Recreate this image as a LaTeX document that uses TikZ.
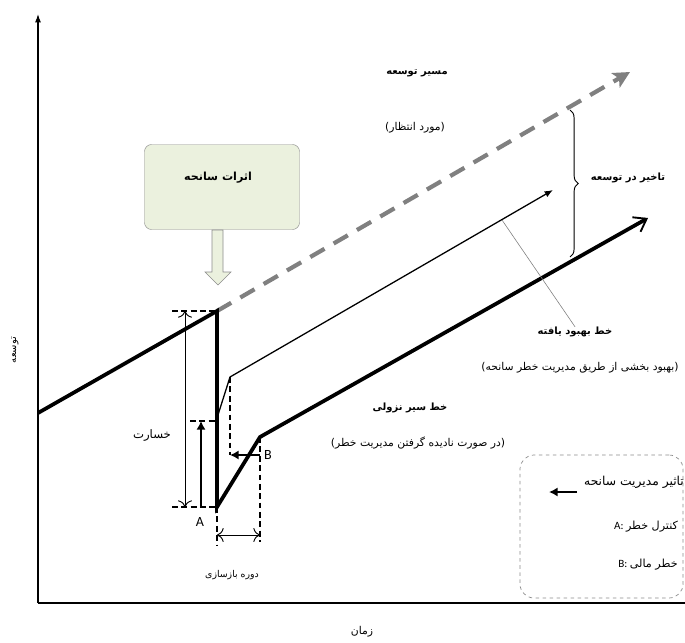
\documentclass[tikz,border=0pt]{standalone}
\usepackage{fontspec}
\setmainfont{Carlito}
\newfontfamily\fa[Script=Arabic]{DejaVu Sans}
\TeXXeTstate=1
\usepackage{tikz}
\usetikzlibrary{positioning,arrows.meta,decorations.pathreplacing}
\usepackage{xcolor}
\definecolor{ShockGreen}{RGB}{235,241,222}
\definecolor{ShockGray}{RGB}{140,140,140}
\definecolor{PathGray}{RGB}{128,128,128}
\newcommand{\fatext}[1]{{\fa\beginR #1\endR}}

\begin{document}
\begin{tikzpicture}[x=0.03cm,y=-0.03cm,
axis/.style={-{Latex[length=2.5mm,width=1.8mm]},line width=1.1pt},
pathline/.style={-{Straight Barb[length=3.5mm,width=5mm,line width=1.6pt]},line width=3.2pt,line join=miter},
expected/.style={-{Stealth[length=5mm,width=5mm,inset=1.2mm]},PathGray,line width=3.6pt,dash pattern=on 14pt off 9pt},
improved/.style={-{Latex[length=2.5mm,width=2mm]},line width=1.1pt},
guide/.style={dashed,line width=0.9pt,dash pattern=on 5pt off 3pt},
span/.style={{To[length=2mm]}-{To[length=2mm]},line width=0.8pt},
effarrow/.style={-{Latex[length=2.6mm,width=2.8mm]},line width=2.4pt},
leader/.style={draw=PathGray,line width=0.5pt},
effectbox/.style={rectangle,rounded corners=6pt,draw=ShockGray,fill=ShockGreen,minimum width=4.65cm,minimum height=2.55cm},
callarrow/.style={draw=ShockGray,fill=ShockGreen,line width=0.5pt},
legendbox/.style={rectangle,rounded corners=12pt,draw=ShockGray,dashed,line width=0.6pt,minimum width=4.89cm,minimum height=4.29cm},
lbl/.style={inner sep=0pt,font=\fontsize{9.2}{11}\selectfont},
boldlbl/.style={inner sep=0pt,font=\fontsize{8.5}{10}\selectfont\bfseries},
keylbl/.style={inner sep=0pt,font=\fontsize{9.5}{12}\selectfont},
letter/.style={inner sep=0pt,font=\fontsize{12}{14}\selectfont}
]
\useasboundingbox (0,0) rectangle (685,642);
\coordinate (o) at (38,603);
\coordinate (ytop) at (38,14);
\coordinate (xend) at (685,603);
\draw[axis] (o) -- (ytop);
\draw[line width=1.3pt] (o) -- (xend);

\coordinate (s0) at (38,413);
\coordinate (s1) at (217,311);
\coordinate (s2) at (217,507);
\coordinate (goal) at (630,72);
\coordinate (i0) at (217,418);
\coordinate (i1) at (230,377);
\coordinate (i2) at (553,190);
\coordinate (d1) at (260,437);
\coordinate (d2) at (648,218);
\coordinate (lead) at (502,220);

\draw[expected] (s1) -- (goal);
\draw[improved] (i0) -- (i1) -- (i2);
\draw[pathline] (s0) -- (s1) -- (s2) -- (d1) -- (d2);

\coordinate (g1) at (172,311);
\coordinate (g2) at (190,421);
\coordinate (g3) at (172,507);
\coordinate (g4) at (217,421);
\coordinate (g5) at (230,455);
\coordinate (g6) at (260,542);
\coordinate (g7) at (217,546);
\draw[guide] (g1) -- (s1);
\draw[guide] (g2) -- (g4);
\draw[guide] (g3) -- (s2);
\draw[guide] (i1) -- (g5);
\draw[guide] (d1) -- (g6);
\draw[guide] (s2) -- (g7);

\coordinate (l1) at (185,311);
\coordinate (l2) at (185,507);
\coordinate (a1) at (201,507);
\coordinate (a2) at (201,421);
\coordinate (b1) at (260,455);
\coordinate (r1) at (217,535);
\coordinate (r2) at (260,535);
\draw[span] (l1) -- (l2);
\draw[effarrow] (a1) -- (a2);
\draw[effarrow] (b1) -- (g5);
\draw[span] (r1) -- (r2);

\node[effectbox] (effect) at (222,187) {};
\node[boldlbl,font=\fontsize{9.5}{12}\selectfont\bfseries] (effectTxt) at (218,178) {\fatext{اثرات سانحه}};
\draw[callarrow] (212,230) -- (212,272) -- (205,272) -- (218,285) -- (231,272) -- (223,272) -- (223,230) -- cycle;

\node[boldlbl] (expLbl) at (417,73) {\fatext{مسیر توسعه}};
\node[lbl] (expSub) at (415,128) {\fatext{(مورد انتظار)}};
\draw[decorate,decoration={brace,amplitude=7pt},line width=0.8pt] (570,110) -- (570,257);
\node[boldlbl] (delay) at (628,178) {\fatext{تاخیر در توسعه}};
\node[boldlbl] (impLbl) at (575,332) {\fatext{خط بهبود یافته}};
\node[lbl] (impSub) at (580,368) {\fatext{(بهبود بخشی از طریق مدیریت خطر سانحه)}};
\draw[leader] (lead) -- (impLbl.north);
\node[boldlbl] (downLbl) at (410,408) {\fatext{خط سیر نزولی}};
\node[lbl] (downSub) at (418,443) {\fatext{(در صورت نادیده گرفتن مدیریت خطر)}};
\node[lbl,font=\fontsize{10}{12}\selectfont] (loss) at (152,435) {\fatext{خسارت}};
\node[lbl,font=\fontsize{8}{10}\selectfont] (recov) at (232,575) {\fatext{دوره بازسازی}};
\node[lbl] (time) at (362,632) {\fatext{زمان}};
\node[lbl,rotate=90,font=\fontsize{8.5}{10}\selectfont] (ylab) at (15,350) {\fatext{توسعه}};
\node[letter] (A) at (200,522) {A};
\node[letter] (B) at (268,455) {B};

\node[legendbox] (legend) at (601.5,526.5) {};
\node[keylbl,font=\fontsize{10.5}{12}\selectfont] (legTitle) at (634,482) {\fatext{تاثیر مدیریت سانحه}};
\coordinate (k1) at (577,492);
\coordinate (k2) at (549,492);
\draw[effarrow] (k1) -- (k2);
\node[keylbl] (legA) at (646,527) {A: \fatext{کنترل خطر}};
\node[keylbl] (legB) at (648,565) {B: \fatext{خطر مالی}};
\end{tikzpicture}
\end{document}
